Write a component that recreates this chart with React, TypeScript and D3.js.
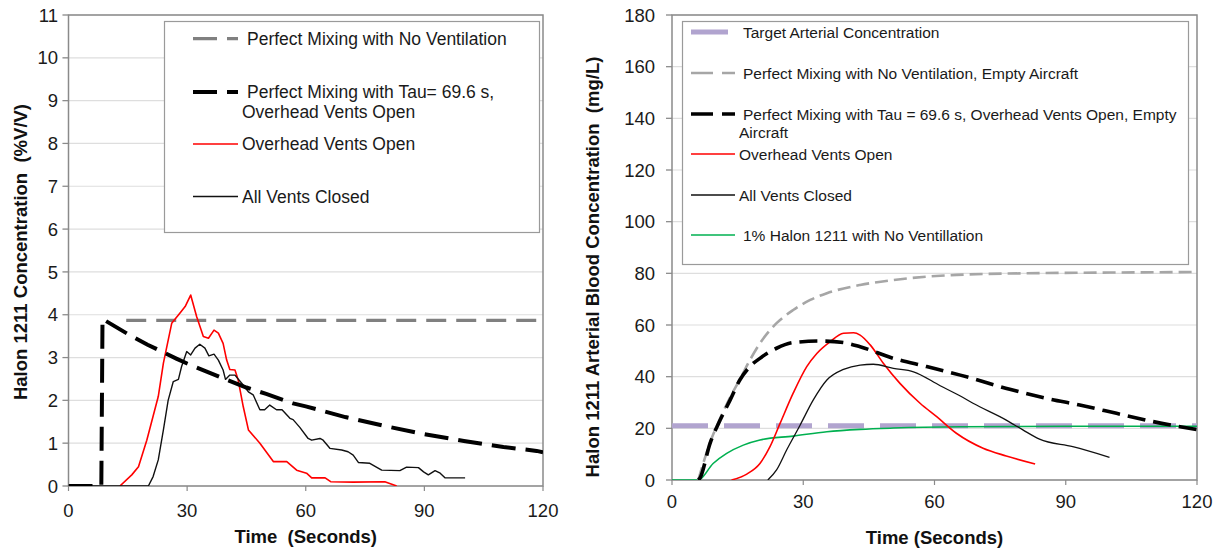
import React from "react";
import * as d3 from "d3";

// ---------- Left chart data (Halon 1211 concentration, %V/V) ----------
const leftXTicks = [0, 30, 60, 90, 120];
const leftYTicks = [0, 1, 2, 3, 4, 5, 6, 7, 8, 9, 10, 11];

const noVentT = [14.6, 120];
const noVentV = [3.87, 3.87];

const tauT = [0, 8.3, 8.6, 15, 20, 27.4, 30, 40, 45, 50, 56.8, 60, 70, 72, 80, 90, 100, 110, 118.4, 120];
const tauV = [0, 0, 3.9, 3.55, 3.3, 2.97, 2.86, 2.48, 2.3, 2.15, 1.93, 1.86, 1.61, 1.57, 1.4, 1.21, 1.05, 0.91, 0.82, 0.79];

const leftRedT = [13, 16, 17.7, 19.8, 22.7, 24, 26.1, 28.2, 29.5, 30.9, 32.4, 34.1, 35.4, 36.8, 37.9, 39.1, 40, 40.8, 42.1, 42.9, 44.2, 45.5, 48.4, 51.8, 55.2, 57.7, 60.2, 61.5, 64.9, 66.3, 72, 80, 83];
const leftRedV = [0, 0.26, 0.45, 1.07, 2.09, 2.87, 3.8, 4.04, 4.19, 4.46, 3.96, 3.49, 3.45, 3.64, 3.57, 3.33, 2.94, 2.72, 2.71, 2.48, 1.85, 1.31, 1.0, 0.57, 0.57, 0.37, 0.3, 0.19, 0.19, 0.1, 0.09, 0.1, 0.0];

const leftBlackT = [0, 20.2, 21.4, 22.7, 24, 25.2, 26.5, 27.8, 28.6, 29.9, 30.9, 32, 33.2, 34.5, 35.5, 36.8, 37.9, 39.1, 39.7, 40.8, 42.1, 43.8, 45.5, 46.7, 48.4, 49.6, 50.9, 52.6, 54, 56, 56.8, 58.5, 60.6, 61.5, 63.6, 64.4, 66.1, 69.1, 70.7, 72, 73.3, 76.2, 79.2, 83.8, 85.5, 88.5, 89.8, 91, 92.7, 94, 95.2, 100.3];
const leftBlackV = [0, 0, 0.22, 0.61, 1.31, 2.0, 2.44, 2.49, 2.79, 3.14, 3.06, 3.22, 3.31, 3.22, 3.04, 3.08, 2.94, 2.71, 2.49, 2.59, 2.59, 2.4, 2.2, 2.13, 1.78, 1.78, 1.89, 1.78, 1.78, 1.58, 1.55, 1.37, 1.11, 1.07, 1.11, 1.07, 0.88, 0.84, 0.8, 0.72, 0.55, 0.53, 0.37, 0.36, 0.44, 0.43, 0.33, 0.26, 0.36, 0.3, 0.19, 0.19];

// ---------- Right chart data (arterial blood concentration, mg/L) ----------
const rightXTicks = [0, 30, 60, 90, 120];
const rightYTicks = [0, 20, 40, 60, 80, 100, 120, 140, 160, 180];

const targetT = [0, 120];
const targetV = [21, 21];

const greenT = [0, 6, 9.4, 12.5, 16.3, 20.1, 27.7, 35.4, 43, 50.6, 65.9, 90, 120];
const greenV = [0, 0, 6.4, 10.3, 13.5, 15.5, 17, 18.7, 19.6, 20.1, 20.6, 20.8, 20.8];

const greyT = [6, 8.7, 11, 13.3, 15.5, 17.8, 20.1, 23.9, 27.7, 31.6, 35.4, 43, 50.6, 58.2, 65.1, 80, 100, 120];
const greyV = [0, 14.5, 23.8, 32, 38.9, 46.4, 52.9, 60.7, 65.8, 69.7, 72.3, 75.5, 77.4, 78.7, 79.4, 80, 80.3, 80.5];

const blackDashT = [6, 6.3, 8.7, 11, 13.3, 15.5, 17.8, 20.1, 23.9, 27.7, 33.8, 39.2, 43, 50.6, 58.2, 65.9, 77.2, 85.6, 93.2, 101.6, 110, 120];
const blackDashV = [0, 0.5, 14.2, 23.2, 31, 38.7, 43.9, 47.1, 51, 53.2, 53.8, 53.2, 51.6, 47.1, 43.9, 40.6, 35.1, 31.6, 29, 25.8, 22.6, 19.5];

const rightRedT = [13.6, 17.1, 20.1, 22.4, 24.7, 27.7, 30.8, 33.1, 36.1, 39.2, 41.5, 43, 45.3, 48.3, 52.1, 56.7, 60.5, 65, 71.1, 76.4, 83];
const rightRedV = [0, 2.3, 6.4, 12.9, 21.9, 33.6, 43.9, 49, 53.5, 56.8, 57, 56.1, 52.3, 45.2, 37.4, 29.7, 24.5, 18.1, 12.3, 9.3, 6.2];

const rightBlackT = [21.9, 23.9, 26.2, 29.3, 32.3, 35.4, 39.2, 43, 46, 50.6, 55.2, 61.3, 65.9, 68.8, 76.4, 80.2, 84, 91.6, 100];
const rightBlackV = [0, 3.9, 11.6, 21.3, 31, 38.7, 42.8, 44.5, 44.8, 43.2, 41.9, 36.5, 32.5, 29.7, 23.2, 19.4, 15.8, 12.9, 8.8];

const FONT = "'Liberation Sans', Arial, Helvetica, sans-serif";

type Pt = [number, number];
const zip = (t: number[], v: number[]): Pt[] => t.map((d, i) => [d, v[i]]);

export default function App() {
  // scales
  const xL = d3.scaleLinear().domain([0, 120]).range([68.5, 543]);
  const yL = d3.scaleLinear().domain([0, 11]).range([486, 15]);
  const xR = d3.scaleLinear().domain([0, 120]).range([672, 1197]);
  const yR = d3.scaleLinear().domain([0, 180]).range([480, 15]);

  const lineL = d3.line<Pt>().x((d) => xL(d[0])).y((d) => yL(d[1])).curve(d3.curveLinear);
  const lineRs = d3.line<Pt>().x((d) => xR(d[0])).y((d) => yR(d[1])).curve(d3.curveMonotoneX);
  const lineRl = d3.line<Pt>().x((d) => xR(d[0])).y((d) => yR(d[1])).curve(d3.curveLinear);

  const gridColor = "#dedede";
  const frameColor = "#8a8a8a";

  const leftLegend = { x: 164.5, y: 21.5, w: 375, h: 211 };
  const rightLegend = { x: 682.5, y: 21.5, w: 506, h: 243 };

  return (
    <svg
      width={1219}
      height={550}
      style={{ position: "absolute", left: 0, top: 0, background: "#fff" }}
      fontFamily={FONT}
    >
      <defs>
        <clipPath id="clipL">
          <rect x={xL(0)} y={yL(11)} width={xL(120) - xL(0)} height={yL(0) - yL(11)} />
        </clipPath>
        <clipPath id="clipR">
          <rect x={xR(0)} y={yR(180)} width={xR(120) - xR(0) + 2} height={yR(0) - yR(180)} />
        </clipPath>
      </defs>
      <rect width={1219} height={550} fill="#fff" />

      {/* ================= LEFT CHART ================= */}
      <g>
        {leftYTicks.map((t) => (
          <line key={"lg" + t} x1={xL(0) - 6} x2={xL(120)} y1={yL(t)} y2={yL(t)} stroke={gridColor} strokeWidth={1.2} />
        ))}
        {/* frame */}
        <rect x={xL(0)} y={yL(11)} width={xL(120) - xL(0)} height={yL(0) - yL(11)} fill="none" stroke={frameColor} strokeWidth={1.5} />
        {leftYTicks.map((t) => (
          <line key={"lyt" + t} x1={xL(0) - 6} x2={xL(0)} y1={yL(t)} y2={yL(t)} stroke={frameColor} strokeWidth={1.2} />
        ))}
        {leftXTicks.map((t) => (
          <line key={"lxt" + t} x1={xL(t)} x2={xL(t)} y1={yL(0)} y2={yL(0) + 5} stroke={frameColor} strokeWidth={1.2} />
        ))}
        {leftYTicks.map((t) => (
          <text key={"lyl" + t} x={58} y={yL(t)} dy="0.36em" textAnchor="end" fontSize={18.5} fill="#1a1a1a">
            {t}
          </text>
        ))}
        {leftXTicks.map((t) => (
          <text key={"lxl" + t} x={xL(t)} y={517} textAnchor="middle" fontSize={18.5} fill="#1a1a1a">
            {t}
          </text>
        ))}
        <text x={(xL(0) + xL(120)) / 2} y={543} textAnchor="middle" fontSize={18.5} fontWeight="bold" fill="#111" style={{ whiteSpace: "pre" }}>
          {"Time  (Seconds)"}
        </text>
        <text
          transform={`translate(27,252) rotate(-90)`}
          textAnchor="middle"
          fontSize={18.5}
          fontWeight="bold"
          fill="#111"
          style={{ whiteSpace: "pre" }}
        >
          {"Halon 1211 Concentration  (%V/V)"}
        </text>

        {/* series */}
        <g clipPath="url(#clipL)">
          <path d={lineL(zip(noVentT, noVentV)) || ""} fill="none" stroke="#808080" strokeWidth={3.2} strokeDasharray="20,10" />
          <path d={lineL(zip(leftRedT, leftRedV)) || ""} fill="none" stroke="#ff0000" strokeWidth={1.6} strokeLinejoin="round" />
          <path d={lineL(zip(leftBlackT, leftBlackV)) || ""} fill="none" stroke="#111" strokeWidth={1.4} strokeLinejoin="round" />
          <path d={lineL(zip(tauT, tauV)) || ""} fill="none" stroke="#000" strokeWidth={4} strokeDasharray="24,10" />
        </g>

        {/* legend */}
        <rect x={leftLegend.x} y={leftLegend.y} width={leftLegend.w} height={leftLegend.h} fill="#fff" stroke="#9a9a9a" strokeWidth={1.2} />
        <line x1={193} x2={238} y1={38.6} y2={38.6} stroke="#808080" strokeWidth={3.2} strokeDasharray="24,10" />
        <text x={247} y={45} fontSize={17.5} fill="#1a1a1a">Perfect Mixing with No Ventilation</text>
        <line x1={193} x2={238} y1={92} y2={92} stroke="#000" strokeWidth={4} strokeDasharray="24,10" />
        <text x={247} y={98} fontSize={17.5} fill="#1a1a1a">Perfect Mixing with Tau= 69.6 s,</text>
        <text x={242} y={118} fontSize={17.5} fill="#1a1a1a">Overhead Vents Open</text>
        <line x1={193} x2={238} y1={144} y2={144} stroke="#ff0000" strokeWidth={1.6} />
        <text x={242} y={150} fontSize={17.5} fill="#1a1a1a">Overhead Vents Open</text>
        <line x1={193} x2={238} y1={196.5} y2={196.5} stroke="#111" strokeWidth={1.4} />
        <text x={242} y={203} fontSize={17.5} fill="#1a1a1a">All Vents Closed</text>
      </g>

      {/* ================= RIGHT CHART ================= */}
      <g>
        {rightYTicks.map((t) => (
          <line key={"rg" + t} x1={xR(0) - 6} x2={xR(120)} y1={yR(t)} y2={yR(t)} stroke={gridColor} strokeWidth={1.2} />
        ))}
        <rect x={xR(0)} y={yR(180)} width={xR(120) - xR(0)} height={yR(0) - yR(180)} fill="none" stroke={frameColor} strokeWidth={1.5} />
        {rightYTicks.map((t) => (
          <line key={"ryt" + t} x1={xR(0) - 6} x2={xR(0)} y1={yR(t)} y2={yR(t)} stroke={frameColor} strokeWidth={1.2} />
        ))}
        {rightXTicks.map((t) => (
          <line key={"rxt" + t} x1={xR(t)} x2={xR(t)} y1={yR(0)} y2={yR(0) + 5} stroke={frameColor} strokeWidth={1.2} />
        ))}
        {rightYTicks.map((t) => (
          <text key={"ryl" + t} x={655} y={yR(t)} dy="0.36em" textAnchor="end" fontSize={18.5} fill="#1a1a1a">
            {t}
          </text>
        ))}
        {rightXTicks.map((t) => (
          <text key={"rxl" + t} x={xR(t)} y={508} textAnchor="middle" fontSize={18.5} fill="#1a1a1a">
            {t}
          </text>
        ))}
        <text x={(xR(0) + xR(120)) / 2} y={544} textAnchor="middle" fontSize={18.5} fontWeight="bold" fill="#111">
          Time (Seconds)
        </text>
        <text
          transform={`translate(599,267) rotate(-90)`}
          textAnchor="middle"
          fontSize={18.5}
          fontWeight="bold"
          fill="#111"
          style={{ whiteSpace: "pre" }}
        >
          {"Halon 1211 Arterial Blood Concentration  (mg/L)"}
        </text>

        <g clipPath="url(#clipR)">
          <path d={lineRl(zip(targetT, targetV)) || ""} fill="none" stroke="#b1a4cf" strokeWidth={5} strokeDasharray="36,16" />
          <path d={lineRs(zip(greenT, greenV)) || ""} fill="none" stroke="#00b050" strokeWidth={1.6} />
          <path d={lineRs(zip(greyT, greyV)) || ""} fill="none" stroke="#a6a6a6" strokeWidth={2.6} strokeDasharray="13,6" />
          <path d={lineRs(zip(rightRedT, rightRedV)) || ""} fill="none" stroke="#ff0000" strokeWidth={1.6} />
          <path d={lineRs(zip(rightBlackT, rightBlackV)) || ""} fill="none" stroke="#111" strokeWidth={1.3} />
          <path d={lineRs(zip(blackDashT, blackDashV)) || ""} fill="none" stroke="#000" strokeWidth={3.6} strokeDasharray="18,8" />
        </g>

        {/* legend */}
        <rect x={rightLegend.x} y={rightLegend.y} width={rightLegend.w} height={rightLegend.h} fill="#fff" stroke="#9a9a9a" strokeWidth={1.2} />
        <line x1={691} x2={728} y1={32} y2={32} stroke="#b1a4cf" strokeWidth={5} />
        <text x={743} y={37.5} fontSize={15.5} fill="#1a1a1a">Target Arterial Concentration</text>
        <line x1={691} x2={735} y1={73} y2={73} stroke="#a6a6a6" strokeWidth={2.6} strokeDasharray="22,9" />
        <text x={743} y={78.5} fontSize={15.5} fill="#1a1a1a">Perfect Mixing with No Ventilation, Empty Aircraft</text>
        <line x1={691} x2={735} y1={114} y2={114} stroke="#000" strokeWidth={3.6} strokeDasharray="22,9" />
        <text x={743} y={119.5} fontSize={15.5} fill="#1a1a1a">Perfect Mixing with Tau = 69.6 s, Overhead Vents Open, Empty</text>
        <text x={739} y={137.5} fontSize={15.5} fill="#1a1a1a">Aircraft</text>
        <line x1={691} x2={735} y1={154} y2={154} stroke="#ff0000" strokeWidth={1.6} />
        <text x={739} y={159.5} fontSize={15.5} fill="#1a1a1a">Overhead Vents Open</text>
        <line x1={691} x2={735} y1={195} y2={195} stroke="#111" strokeWidth={1.3} />
        <text x={739} y={200.5} fontSize={15.5} fill="#1a1a1a">All Vents Closed</text>
        <line x1={691} x2={735} y1={235} y2={235} stroke="#00b050" strokeWidth={1.6} />
        <text x={743} y={240.5} fontSize={15.5} fill="#1a1a1a">1% Halon 1211 with No Ventillation</text>
      </g>
    </svg>
  );
}
